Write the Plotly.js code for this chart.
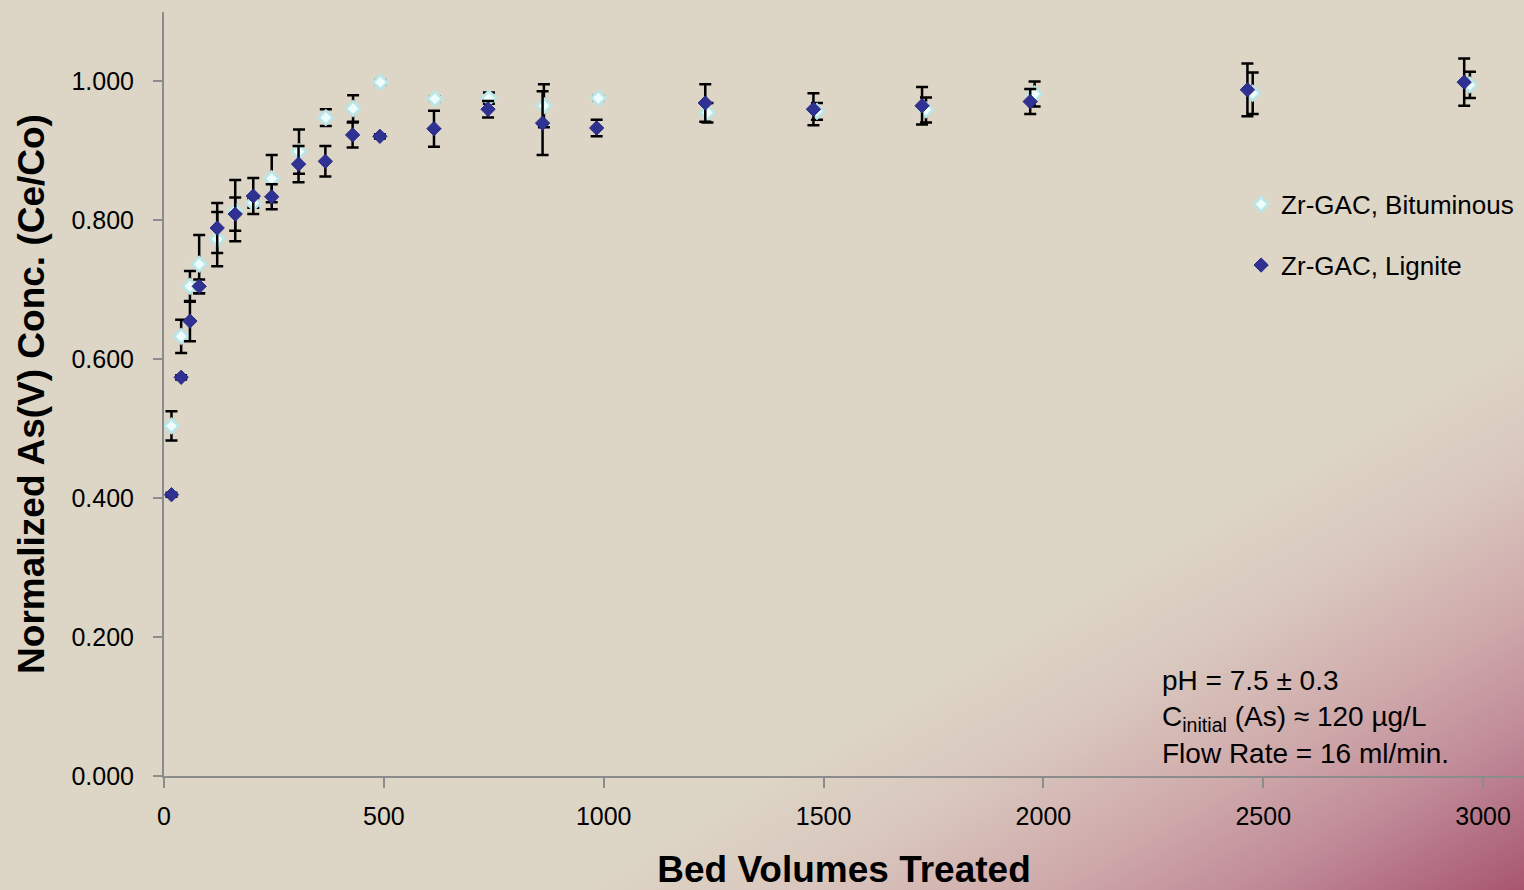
<!DOCTYPE html>
<html>
<head>
<meta charset="utf-8">
<script src="https://cdn.plot.ly/plotly-3.0.1.min.js"></script>
<style>
  html, body { margin: 0; padding: 0; width: 1524px; height: 890px; overflow: hidden; }
  body {
    background: linear-gradient(to bottom right, #ddd6c6 0%, #ddd5c5 69%, #d9c7be 76%, #cfaaab 84%, #c08b98 91%, #a8566e 100%);
  }
  #chart { width: 1524px; height: 890px; }
</style>
</head>
<body>
<div id="chart"></div>
<script>
// Bed volumes treated
const bitX = [17, 39, 59, 80, 121, 162, 203, 245, 307, 368, 430, 492, 616, 739, 864, 988, 1236, 1485, 1733, 1980, 2476, 2970];
const bitY = [0.504, 0.633, 0.705, 0.737, 0.773, 0.814, 0.825, 0.860, 0.899, 0.948, 0.961, 0.999, 0.975, 0.976, 0.965, 0.976, 0.955, 0.957, 0.959, 0.982, 0.983, 0.995];
const bitErr = [0.021, 0.024, 0.022, 0.042, 0.039, 0.044, 0.007, 0.034, 0.032, 0.012, 0.019, 0.003, 0.003, 0.008, 0.031, 0.003, 0.014, 0.012, 0.018, 0.018, 0.030, 0.019];

const ligX = [17, 39, 59, 80, 121, 162, 203, 245, 306, 367, 429, 491, 614, 737, 861, 984, 1231, 1477, 1724, 1970, 2464, 2957];
const ligY = [0.405, 0.574, 0.655, 0.705, 0.789, 0.809, 0.835, 0.834, 0.881, 0.885, 0.923, 0.921, 0.932, 0.960, 0.940, 0.933, 0.969, 0.960, 0.965, 0.971, 0.988, 0.999];
const ligErr = [0.003, 0.003, 0.029, 0.010, 0.036, 0.024, 0.026, 0.018, 0.026, 0.022, 0.018, 0.003, 0.026, 0.012, 0.046, 0.012, 0.027, 0.023, 0.027, 0.018, 0.038, 0.034];

const seriesNames = ["Zr-GAC, Bituminous", "Zr-GAC, Lignite"];
const xTitle = "Bed Volumes Treated";
const yTitle = "Normalized As(V) Conc. (Ce/Co)";
const noteLines = ["pH = 7.5 ± 0.3", "C<sub>initial</sub> (As) ≈ 120 µg/L", "Flow Rate = 16 ml/min."];

const FONT = "Liberation Sans, Arial, sans-serif";
const xRange = [0, 3093];
const yRange = [0, 1.1];

const errStyle = (arr) => ({type: 'data', array: arr, visible: true, color: '#000000', thickness: 2.5, width: 6});

const traces = [
  {
    x: bitX, y: bitY, name: seriesNames[0], type: 'scatter', mode: 'markers',
    legendgroup: 'a',
    marker: {symbol: 'diamond', size: 11, color: '#eefcfc', line: {color: '#b9e6e8', width: 2.5}},
    error_y: errStyle(bitErr)
  },
  {
    x: ligX, y: ligY, name: seriesNames[1], type: 'scatter', mode: 'markers',
    legendgroup: 'b',
    marker: {symbol: 'diamond', size: 11, color: '#2f3193', line: {color: '#272a85', width: 1}},
    error_y: errStyle(ligErr)
  }
];

const layout = {
  width: 1524, height: 890,
  paper_bgcolor: 'rgba(0,0,0,0)',
  plot_bgcolor: 'rgba(0,0,0,0)',
  margin: {l: 164, r: 0, t: 12, b: 114},
  font: {family: FONT, color: '#000000'},
  showlegend: true,
  legend: {
    x: 0.792, xanchor: 'left', xref: 'paper',
    y: 0.779, yanchor: 'top', yref: 'paper',
    bgcolor: 'rgba(0,0,0,0)', borderwidth: 0,
    font: {family: FONT, size: 26, color: '#000000'},
    tracegroupgap: 24
  },
  xaxis: {
    range: xRange, showgrid: false, zeroline: false,
    showline: true, linecolor: '#8c8c8c', linewidth: 2,
    ticks: 'outside', ticklen: 10, tickwidth: 2, tickcolor: '#8c8c8c',
    dtick: 500, tick0: 0,
    tickfont: {family: FONT, size: 25, color: '#000000'},
    ticklabelstandoff: 7,
    title: {text: xTitle, font: {family: FONT, size: 37, color: '#000000', weight: 'bold'}, standoff: 33},
    automargin: false
  },
  yaxis: {
    range: yRange, showgrid: false, zeroline: false,
    showline: true, linecolor: '#8c8c8c', linewidth: 2,
    ticks: 'outside', ticklen: 9, tickwidth: 2, tickcolor: '#8c8c8c',
    dtick: 0.2, tick0: 0, tickformat: '.3f',
    tickfont: {family: FONT, size: 25, color: '#000000'},
    ticklabelstandoff: 14,
    title: {text: yTitle, font: {family: FONT, size: 37, color: '#000000', weight: 'bold'}, standoff: 15},
    automargin: false
  },
  xaxis2: {
    overlaying: 'x', anchor: 'y', side: 'bottom', range: xRange,
    showgrid: false, zeroline: false, showline: false, showticklabels: false,
    ticks: 'inside', ticklen: 7, tickwidth: 2, tickcolor: '#8c8c8c', dtick: 250, tick0: 0
  },
  yaxis2: {
    overlaying: 'y', anchor: 'x', side: 'left', range: yRange,
    showgrid: false, zeroline: false, showline: false, showticklabels: false,
    ticks: 'inside', ticklen: 6, tickwidth: 2, tickcolor: '#8c8c8c', dtick: 0.1, tick0: 0
  },
  annotations: [
    {
      xref: 'paper', yref: 'paper', x: 0.7324, y: 0.0766,
      xanchor: 'left', yanchor: 'middle', align: 'left',
      text: noteLines.join('<br>'), showarrow: false,
      font: {family: FONT, size: 28, color: '#000000'}
    }
  ]
};

Plotly.newPlot('chart', traces, layout, {displayModeBar: false, staticPlot: true});
</script>
</body>
</html>
